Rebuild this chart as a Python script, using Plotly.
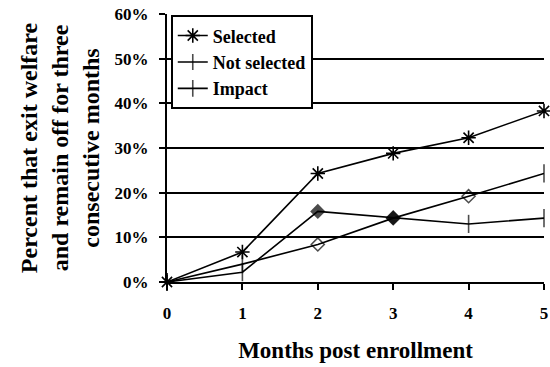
import plotly.graph_objects as go

months = [0, 1, 2, 3, 4, 5]
selected = [0.0, 0.067, 0.243, 0.288, 0.323, 0.383]
not_selected = [0.0, 0.040, 0.084, 0.143, 0.192, 0.243]
impact = [0.0, 0.022, 0.158, 0.144, 0.130, 0.143]
y_ticks = [0, 0.1, 0.2, 0.3, 0.4, 0.5, 0.6]

FONT = "Liberation Serif"

fig = go.Figure()
fig.add_trace(go.Scatter(
    x=months, y=selected, name="<b>Selected</b>", mode="lines+markers",
    line=dict(color="black", width=1.6),
    marker=dict(symbol="asterisk-open", size=12, color="black", line=dict(color="black", width=1.6)),
    cliponaxis=False))
fig.add_trace(go.Scatter(
    x=months, y=not_selected, name="<b>Not selected</b>", mode="lines+markers",
    line=dict(color="black", width=1.6),
    marker=dict(symbol=["line-ns-open", "line-ns-open", "diamond-open", "diamond", "diamond-open", "line-ns-open"],
                size=[13, 13, 10, 10, 10, 13], color="black", line=dict(color="black", width=1.6)),
    cliponaxis=False))
fig.add_trace(go.Scatter(
    x=months, y=impact, name="<b>Impact</b>", mode="lines+markers",
    line=dict(color="black", width=1.6),
    marker=dict(symbol=["line-ns-open", "line-ns-open", "diamond", "diamond", "line-ns-open", "line-ns-open"],
                size=[13, 13, 10, 10, 13, 13], color="black", line=dict(color="black", width=1.6)),
    cliponaxis=False))

fig.update_layout(
    width=550, height=367,
    margin=dict(l=167, r=2, t=14, b=85),
    paper_bgcolor="white", plot_bgcolor="white",
    font=dict(family=FONT, color="black"),
    showlegend=True,
    legend=dict(x=0.01, y=0.995, xanchor="left", yanchor="top",
                bgcolor="white", bordercolor="black", borderwidth=2,
                font=dict(family=FONT, size=18, color="black"),
                tracegroupgap=0, itemwidth=30),
    xaxis=dict(range=[0, 5], tickvals=months, ticktext=[f"<b>{m}</b>" for m in months],
               showgrid=False, zeroline=False, showline=True, linecolor="black", linewidth=2,
               ticks="outside", ticklen=6, tickwidth=2, tickcolor="black",
               ticklabeloverflow="allow", ticklabelstandoff=9,
               tickfont=dict(family=FONT, size=17, color="black"),
               title=dict(text="<b>Months post enrollment</b>", font=dict(family=FONT, size=23, color="black"),
                          standoff=19)),
    yaxis=dict(range=[0, 0.6], tickvals=y_ticks, ticktext=[f"<b>{int(round(v*100))}%</b>" for v in y_ticks],
               showgrid=True, gridcolor="black", gridwidth=2, zeroline=False,
               showline=True, linecolor="black", linewidth=2,
               ticks="outside", ticklen=6, tickwidth=2, tickcolor="black",
               ticklabelstandoff=7,
               tickfont=dict(family=FONT, size=17, color="black"),
               title=dict(text="<b>Percent that exit welfare<br>and remain off for three<br>consecutive months</b>",
                          font=dict(family=FONT, size=24, color="black"), standoff=8)),
)

fig.write_html("out.html", config={"displayModeBar": False},
               post_script="document.body.style.margin='0px';document.body.style.overflow='hidden';")
